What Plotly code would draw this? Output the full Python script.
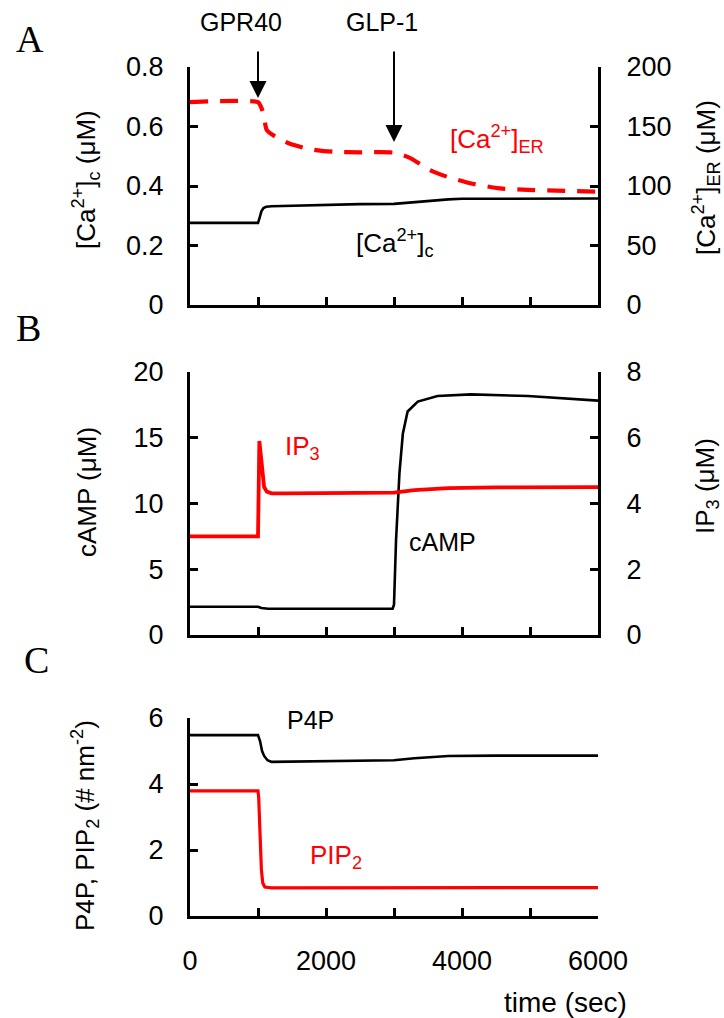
import plotly.graph_objects as go

# ---------------- data ----------------
# Panel A: cytosolic Ca2+ (left axis, uM)
t_cac = [0, 1000, 1020, 1050, 1080, 1120, 1200, 1500, 2000, 2500, 3000, 3200, 3400, 3600, 3800, 4000, 5000, 6000]
v_cac = [0.276, 0.276, 0.29, 0.315, 0.326, 0.330, 0.332, 0.334, 0.337, 0.339, 0.340, 0.344, 0.349, 0.353, 0.355, 0.357, 0.358, 0.358]
# Panel A: ER Ca2+ (right axis, uM)
t_caer = [0, 1000, 1040, 1080, 1130, 1270, 1470, 1760, 2100, 2500, 3000, 3240, 3530, 3780, 4120, 4560, 5050, 6000]
v_caer = [170.5, 170.5, 167, 161, 147, 141, 135.5, 131, 128.8, 128.3, 128, 123.5, 113.4, 107.8, 102.3, 98, 96.6, 95.2]
# Panel B: cAMP (left axis, uM)
t_camp = [0, 1000, 1050, 1150, 2000, 2980, 3000, 3030, 3080, 3130, 3200, 3350, 3640, 4130, 4970, 6000]
v_camp = [2.15, 2.15, 2.05, 2.0, 2.0, 2.0, 2.3, 7.2, 12.3, 15.3, 17.0, 17.75, 18.17, 18.3, 18.17, 17.82]
# Panel B: IP3 (right axis, uM)
t_ip3 = [0, 1000, 1020, 1035, 1060, 1090, 1130, 1200, 1400, 2000, 3000, 3300, 3800, 4500, 6000]
v_ip3 = [3.0, 3.0, 5.9, 5.6, 4.9, 4.5, 4.36, 4.31, 4.31, 4.32, 4.33, 4.41, 4.47, 4.49, 4.5]
# Panel C: P4P and PIP2 (# nm^-2)
t_p4p = [0, 1000, 1030, 1060, 1090, 1140, 1200, 2000, 3000, 3300, 3600, 3800, 4500, 6000]
v_p4p = [5.48, 5.48, 5.3, 5.0, 4.85, 4.72, 4.67, 4.70, 4.72, 4.78, 4.83, 4.85, 4.86, 4.86]
t_pip2 = [0, 1000, 1010, 1030, 1050, 1070, 1100, 1200, 6000]
v_pip2 = [3.79, 3.79, 3.6, 2.4, 1.4, 1.0, 0.88, 0.85, 0.86]

xticks_major = [0, 2000, 4000, 6000]

RED = "#ff0000"
SANS = "Liberation Sans, Arial, sans-serif"
SERIF = "Liberation Serif, Times New Roman, serif"
W, H = 724, 1018


def px(x):
    return x / W


def py(y):
    return 1 - y / H


fig = go.Figure()
fig.add_trace(go.Scatter(x=t_cac, y=v_cac, xaxis="x", yaxis="y", mode="lines",
                         line=dict(color="black", width=2.6)))
fig.add_trace(go.Scatter(x=t_caer, y=v_caer, xaxis="x", yaxis="y2", mode="lines",
                         line=dict(color=RED, width=4.2, dash="18px,12px", shape="spline", smoothing=0.6)))
fig.add_trace(go.Scatter(x=t_camp, y=v_camp, xaxis="x2", yaxis="y3", mode="lines",
                         line=dict(color="black", width=2.6)))
fig.add_trace(go.Scatter(x=t_ip3, y=v_ip3, xaxis="x2", yaxis="y4", mode="lines",
                         line=dict(color=RED, width=3.8)))
fig.add_trace(go.Scatter(x=t_p4p, y=v_p4p, xaxis="x3", yaxis="y5", mode="lines",
                         line=dict(color="black", width=2.6)))
fig.add_trace(go.Scatter(x=t_pip2, y=v_pip2, xaxis="x3", yaxis="y5", mode="lines",
                         line=dict(color=RED, width=3.2)))

xdom = [px(190), px(598)]
axis_common = dict(showline=True, linecolor="black", linewidth=3, ticks="inside",
                   ticklen=8, tickwidth=3, tickcolor="black", showgrid=False, zeroline=False,
                   automargin=False,
                   tickfont=dict(family=SANS, size=27, color="black"))

xa = dict(axis_common, range=[0, 6000], tickmode="array", tickvals=[0, 1000, 2000, 3000, 4000, 5000, 6000],
          showticklabels=False, domain=xdom)

fig.update_layout(
    width=W, height=H, margin=dict(l=0, r=0, t=0, b=0, autoexpand=False),
    paper_bgcolor="white", plot_bgcolor="white", showlegend=False,
    xaxis=dict(xa, anchor="y"),
    xaxis2=dict(xa, anchor="y3"),
    xaxis3=dict(axis_common, range=[0, 6000], tickmode="array", tickvals=xticks_major,
                ticktext=[str(v) for v in xticks_major], domain=xdom, anchor="y5",
                ticklabelstandoff=19,
                minor=dict(tickmode="array", tickvals=[1000, 3000, 5000], ticks="inside",
                           ticklen=8, tickwidth=3, tickcolor="black", showgrid=False)),
    yaxis=dict(axis_common, range=[0, 0.8], tickvals=[0, 0.2, 0.4, 0.6, 0.8],
               ticktext=["0", "0.2", "0.4", "0.6", "0.8"],
               domain=[py(305), py(67)], anchor="x", ticklabelstandoff=18),
    yaxis2=dict(axis_common, range=[0, 200], tickvals=[0, 50, 100, 150, 200],
                overlaying="y", side="right", anchor="x", ticklabelstandoff=20),
    yaxis3=dict(axis_common, range=[0, 20], tickvals=[0, 5, 10, 15, 20],
                domain=[py(635), py(372)], anchor="x2", ticklabelstandoff=18),
    yaxis4=dict(axis_common, range=[0, 8], tickvals=[0, 2, 4, 6, 8],
                overlaying="y3", side="right", anchor="x2", ticklabelstandoff=20),
    yaxis5=dict(axis_common, range=[0, 6], tickvals=[0, 2, 4, 6],
                domain=[py(916), py(718)], anchor="x3", ticklabelstandoff=18),
)

ann = []


def txt(x, y, s, size=24, color="black", angle=0, family=SANS):
    ann.append(dict(x=px(x), y=py(y), xref="paper", yref="paper", text=s, showarrow=False,
                    xanchor="center", yanchor="middle", textangle=angle,
                    font=dict(family=family, size=size, color=color)))


# panel letters
txt(30, 39, "A", size=38, family=SERIF)
txt(28, 328, "B", size=38, family=SERIF)
txt(36, 660, "C", size=38, family=SERIF)

# stimulus labels and arrows
txt(241, 22, "GPR40", size=25)
txt(382, 22, "GLP-1", size=25)
for tx, tip_y in [(1000, 98), (3000, 142)]:
    ann.append(dict(x=tx, y=(305 - tip_y) / 238 * 0.8, xref="x", yref="y", text="", showarrow=True,
                    axref="pixel", ayref="pixel", ax=0, ay=-(tip_y - 50),
                    arrowhead=2, arrowsize=1.7, arrowwidth=2, arrowcolor="black"))

# curve labels
txt(497, 139, "[Ca<sup>2+</sup>]<sub>ER</sub>", size=26, color=RED)
txt(395, 243, "[Ca<sup>2+</sup>]<sub>c</sub>", size=26)
txt(302, 448, "IP<sub>3</sub>", size=26, color=RED)
txt(442, 542, "cAMP", size=25)
txt(310, 720, "P4P", size=25)
txt(336, 856, "PIP<sub>2</sub>", size=26, color=RED)

# axis titles
txt(86, 180, "[Ca<sup>2+</sup>]<sub>c</sub> (μM)", size=26, angle=-90)
txt(706, 178, "[Ca<sup>2+</sup>]<sub>ER</sub> (μM)", size=26, angle=-90)
txt(87, 492, "cAMP (μM)", size=26, angle=-90)
txt(707, 486, "IP<sub>3</sub> (μM)", size=26, angle=-90)
txt(85, 826, "P4P, PIP<sub>2</sub> (# nm<sup>-2</sup>)", size=26, angle=-90)
txt(565, 1002, "time (sec)", size=28)

fig.update_layout(annotations=ann)
fig.write_html("out.html")
